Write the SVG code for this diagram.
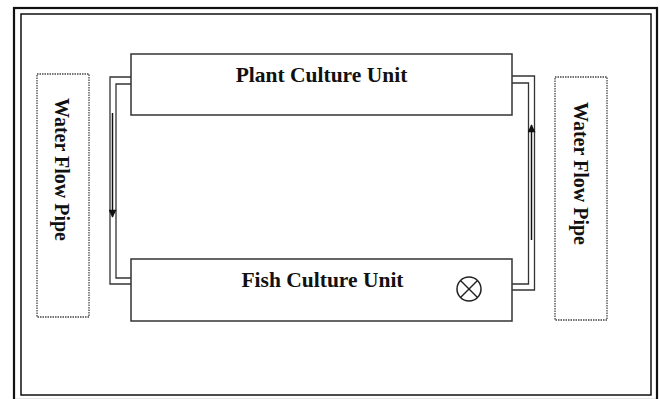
<svg xmlns="http://www.w3.org/2000/svg" width="660" height="399" viewBox="0 0 660 399">
<defs>
<style>
.frame{fill:none;stroke:#111;}
.box{fill:#fff;stroke:#333;stroke-width:1.5;}
.pipe{fill:none;stroke:#333;stroke-width:1.3;}
.dot{fill:#fff;stroke:#444;stroke-width:1.3;stroke-dasharray:1.5 1;}
.lbl{font-family:"Liberation Serif","Times New Roman",serif;font-weight:bold;font-size:21.5px;fill:#111;}
.vl{font-family:"Liberation Serif","Times New Roman",serif;font-weight:bold;font-size:20px;fill:#111;}
.arr{stroke:#111;stroke-width:1.5;fill:none;}
</style>
<marker id="ah" viewBox="0 0 10 10" refX="9" refY="5" markerWidth="9" markerHeight="8" markerUnits="userSpaceOnUse" orient="auto">
<path d="M0,0 L10,5 L0,10 Z" fill="#111"/>
</marker>
</defs>
<rect width="660" height="399" fill="#fff"/>
<g id="frame">
<rect class="frame" x="14" y="8" width="643" height="392" stroke-width="2.2"/>
<rect class="frame" x="21" y="14" width="630" height="381" stroke-width="1.5"/>
</g>
<g id="connectors">
<path class="pipe" d="M131,77 H110 V284 H131"/>
<path class="pipe" d="M131,84 H116 V278 H131"/>
<line class="arr" x1="112.5" y1="113" x2="112.5" y2="217" marker-end="url(#ah)"/>
<path class="pipe" d="M512,76 H534.5 V290 H512"/>
<path class="pipe" d="M512,83 H528.5 V284 H512"/>
<line class="arr" x1="531.5" y1="240" x2="531.5" y2="125" stroke-width="2.2" marker-end="url(#ah)"/>
</g>
<g id="plant">
<rect class="box" x="131" y="54" width="381" height="61"/>
<text class="lbl" x="321.5" y="82" text-anchor="middle">Plant Culture Unit</text>
</g>
<g id="fish">
<rect class="box" x="131" y="259" width="381" height="62"/>
<text class="lbl" x="322.5" y="287" text-anchor="middle">Fish Culture Unit</text>
</g>
<g id="pump">
<circle cx="469" cy="289" r="12" fill="none" stroke="#222" stroke-width="1.5"/>
<line x1="460.5" y1="280.5" x2="477.5" y2="297.5" stroke="#222" stroke-width="1.5"/>
<line x1="477.5" y1="280.5" x2="460.5" y2="297.5" stroke="#222" stroke-width="1.5"/>
</g>
<g id="pipe-left">
<rect class="dot" x="37" y="74" width="52" height="243"/>
<text class="vl" transform="translate(55,98) rotate(90)">Water Flow Pipe</text>
</g>
<g id="pipe-right">
<rect class="dot" x="555" y="77" width="52" height="243"/>
<text class="vl" transform="translate(574,102) rotate(90)">Water Flow Pipe</text>
</g>
</svg>
